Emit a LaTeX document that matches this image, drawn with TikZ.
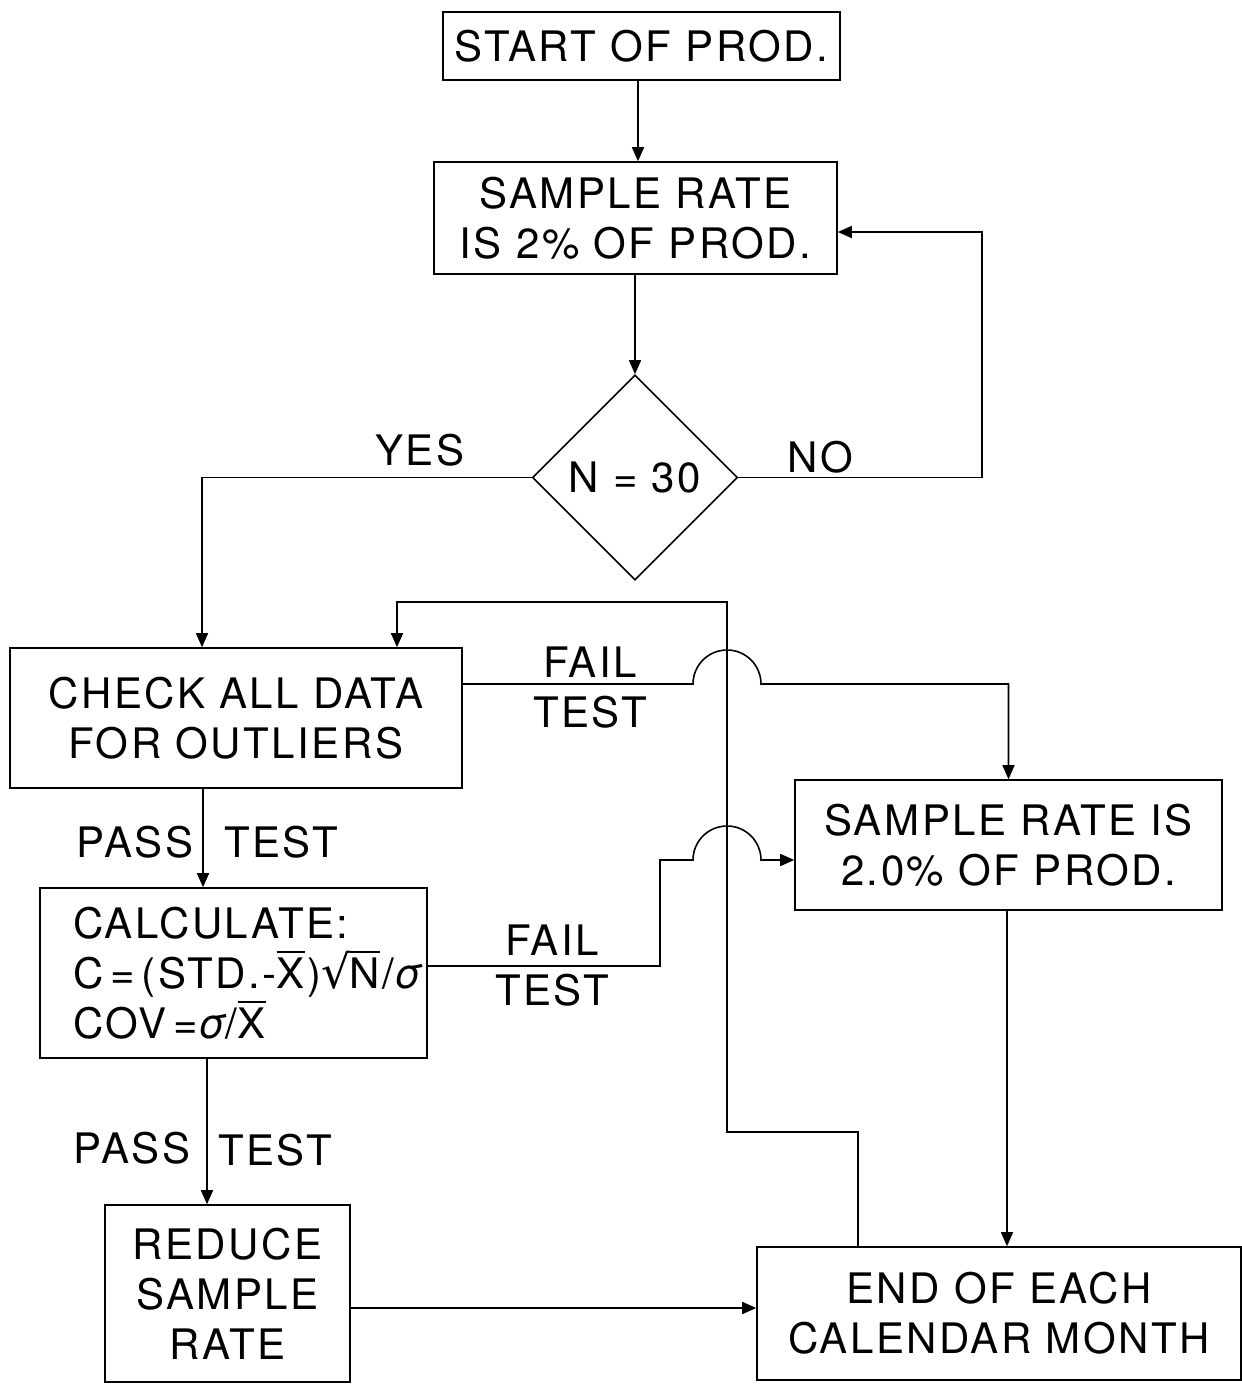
\documentclass[tikz,border=0pt]{standalone}
\usepackage{fontspec}
\setmainfont{TeX Gyre Heros}[LetterSpace=6]
\newfontfamily\djv{DejaVu Sans}
\usetikzlibrary{arrows.meta,shapes.geometric}
\newcommand\myovl[1]{\setbox0=\hbox{#1}\rlap{\raisebox{\dimexpr\ht0+5pt\relax}{\rule{\wd0}{1.6pt}}}#1}
\newcommand\mysig{{\itshape σ}}
\newcommand\myrad{{\djv\fontsize{46}{50}\selectfont √}}
\begin{document}
\begin{tikzpicture}[x=1pt,y=1pt,
  every node/.style={font=\fontsize{42}{50}\selectfont, text=black},
  box/.style={draw, line width=1.6pt, rectangle, inner sep=0pt, align=center},
  lbl/.style={inner sep=0pt},
  arr/.style={line width=1.6pt, -{Triangle[length=14pt,width=12pt]}}]
\useasboundingbox (0,0) rectangle (1242,-1384);
% nodes
\node[box, minimum width=397pt, minimum height=68pt] (start) at (641.5,-46) {START OF PROD.};
\node[box, minimum width=403pt, minimum height=112pt] (sr1) at (635.5,-218) {SAMPLE RATE\\IS 2\% OF PROD.};
\node[draw, line width=1.6pt, diamond, aspect=1, minimum width=205pt, minimum height=205pt, inner sep=0pt] (dia) at (635,-477.5) {N = 30};
\node[box, minimum width=452pt, minimum height=140pt] (check) at (236,-718) {CHECK ALL DATA\\FOR OUTLIERS};
\node[box, text width=321pt, inner xsep=33pt, align=left, minimum height=170pt] (calc) at (233.5,-973) {\mbox{CALCULATE:}\\\mbox{C\,=\,(STD.-\myovl{X})\myrad\kern-1pt\myovl{N}/\mysig}\\\mbox{COV\,=\mysig/\myovl{X}}};
\node[box, minimum width=427pt, minimum height=130pt] (sr2) at (1008.5,-845) {SAMPLE RATE IS\\2.0\% OF PROD.};
\node[box, minimum width=245pt, minimum height=177pt] (reduce) at (227.5,-1293.5) {REDUCE\\SAMPLE\\RATE};
\node[box, minimum width=484pt, minimum height=133pt] (end) at (999,-1313.5) {END OF EACH\\CALENDAR MONTH};
% labels
\node[lbl] (yes) at (420,-450) {YES};
\node[lbl] (no) at (820,-457) {NO};
\node[lbl] (fail1) at (590,-662) {FAIL};
\node[lbl] (test1) at (590,-712) {TEST};
\node[lbl] (pass1) at (135,-842) {PASS};
\node[lbl] (ptest1) at (281,-842) {TEST};
\node[lbl] (fail2) at (552,-940) {FAIL};
\node[lbl] (test2) at (552,-990) {TEST};
\node[lbl] (pass2) at (132,-1148) {PASS};
\node[lbl] (ptest2) at (275,-1150) {TEST};
% coordinates
\coordinate (noC) at (982,-232);
\coordinate (fb1) at (727,-1132);
\coordinate (fb2) at (727,-602);
\coordinate (fb3) at (397,-602);
\coordinate (f2a) at (660,-966);
\coordinate (f2b) at (660,-860);
% connectors
\draw[arr] (start.south -| 638,0) -- (sr1.north -| 638,0);
\draw[arr] (sr1.south -| dia.north) -- (dia.north);
\draw[arr] (dia.east) -| (noC) -- (noC -| sr1.east);
\draw[arr] (dia.west) -| (check.north -| 202,0);
\draw[arr] (check.east |- 0,-684) -- (693,-684) arc (180:0:34) -- (1008.5,-684) -- (sr2.north);
\draw[arr] (end.north -| 858,0) |- (fb1) -- (fb2) -| (check.north -| fb3);
\draw[arr] (check.south -| 203,0) -- (calc.north -| 203,0);
\draw[arr] (calc.east |- f2a) -- (f2a) -- (f2b) -- (693,-860) arc (180:0:34) -- (sr2.west |- f2b);
\draw[arr] (sr2.south -| 1007,0) -- (end.north -| 1007,0);
\draw[arr] (calc.south -| 207,0) -- (reduce.north -| 207,0);
\draw[arr] (reduce.east |- 0,-1308) -- (end.west |- 0,-1308);
\end{tikzpicture}
\end{document}
